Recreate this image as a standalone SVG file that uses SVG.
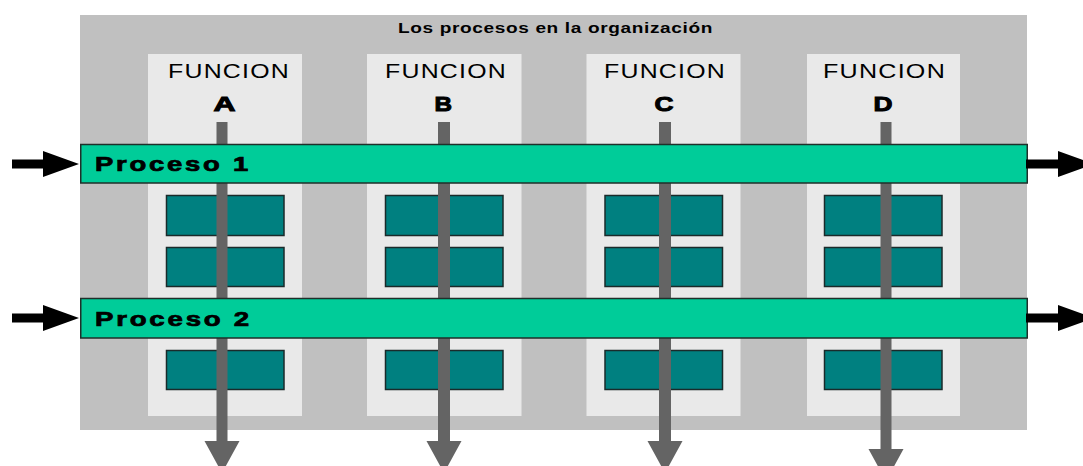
<svg xmlns="http://www.w3.org/2000/svg" width="1083" height="466" viewBox="0 0 1083 466">
<style>
.col{fill:#e9e9e9}
.box{fill:#008080;stroke:#1a2a2a;stroke-width:1.5}
.bar{fill:#00cc99;stroke:#1f2f2a;stroke-width:1.5}
.shaft{fill:#646464}
.blk{fill:#000}
.fn{font-family:"Liberation Sans",Arial,sans-serif;font-size:20px;fill:#000;letter-spacing:1px}
.let{font-family:"Liberation Sans",Arial,sans-serif;font-size:21px;font-weight:bold;fill:#000;stroke:#000;stroke-width:1}
.pt{font-family:"Liberation Sans",Arial,sans-serif;font-size:20px;font-weight:bold;fill:#000;stroke:#000;stroke-width:0.7;letter-spacing:2px}
.title{font-family:"Liberation Sans",Arial,sans-serif;font-size:15px;font-weight:bold;fill:#000;letter-spacing:0.5px}
</style>
<rect width="1083" height="466" fill="#fff"/>
<rect id="org" x="80" y="15" width="947" height="415" fill="#c0c0c0"/>
<text class="title" x="398" y="32.5" textLength="315" lengthAdjust="spacingAndGlyphs">Los procesos en la organización</text>

<g id="funcionA">
<rect class="col" x="148" y="54" width="154" height="362"/>
<text class="fn" x="168" y="78" textLength="122" lengthAdjust="spacingAndGlyphs">FUNCION</text>
<text class="let" x="213.5" y="110.5" textLength="22" lengthAdjust="spacingAndGlyphs">A</text>
<rect class="box" x="166.5" y="195.5" width="117.5" height="40"/>
<rect class="box" x="166.5" y="247.5" width="117.5" height="39"/>
<rect class="box" x="166.5" y="350.5" width="117.5" height="39"/>
</g>
<g id="funcionB">
<rect class="col" x="367" y="54" width="154.5" height="362"/>
<text class="fn" x="385" y="78" textLength="122" lengthAdjust="spacingAndGlyphs">FUNCION</text>
<text class="let" x="434.5" y="110.5" textLength="17.5" lengthAdjust="spacingAndGlyphs">B</text>
<rect class="box" x="385.5" y="195.5" width="117.5" height="40"/>
<rect class="box" x="385.5" y="247.5" width="117.5" height="39"/>
<rect class="box" x="385.5" y="350.5" width="117.5" height="39"/>
</g>
<g id="funcionC">
<rect class="col" x="586.5" y="54" width="154" height="362"/>
<text class="fn" x="604" y="78" textLength="122" lengthAdjust="spacingAndGlyphs">FUNCION</text>
<text class="let" x="654.5" y="110.5" textLength="19" lengthAdjust="spacingAndGlyphs">C</text>
<rect class="box" x="605" y="195.5" width="117.5" height="40"/>
<rect class="box" x="605" y="247.5" width="117.5" height="39"/>
<rect class="box" x="605" y="350.5" width="117.5" height="39"/>
</g>
<g id="funcionD">
<rect class="col" x="807" y="54" width="153" height="362"/>
<text class="fn" x="823" y="78" textLength="123" lengthAdjust="spacingAndGlyphs">FUNCION</text>
<text class="let" x="873.5" y="110.5" textLength="19" lengthAdjust="spacingAndGlyphs">D</text>
<rect class="box" x="824.5" y="195.5" width="117.5" height="40"/>
<rect class="box" x="824.5" y="247.5" width="117.5" height="39"/>
<rect class="box" x="824.5" y="350.5" width="117.5" height="39"/>
</g>

<g id="connectors">
<path class="shaft" d="M216.5 122 H227.5 V441 H239.5 L222 473 L204.5 441 H216.5 Z"/>
<path class="shaft" d="M438 122 H450 V441 H461.5 L444 473 L426.5 441 H438 Z"/>
<path class="shaft" d="M659 122 H671 V441 H682.5 L665 473 L647.5 441 H659 Z"/>
<path class="shaft" d="M880.5 122 H891.5 V449 H903.5 L886 481 L868.5 449 H880.5 Z"/>
</g>

<g id="proceso1">
<rect class="bar" x="80.75" y="144.5" width="946.5" height="38.5"/>
<text class="pt" x="95" y="170.5" textLength="156" lengthAdjust="spacingAndGlyphs">Proceso 1</text>
</g>
<g id="proceso2">
<rect class="bar" x="80.75" y="298.5" width="946.5" height="39.5"/>
<text class="pt" x="95" y="326" textLength="157" lengthAdjust="spacingAndGlyphs">Proceso 2</text>
</g>

<g id="connectors-h">
<path class="blk" d="M12 159.5 H43 V151 L79 164 L43 177 V168.5 H12 Z"/>
<path class="blk" d="M1026 159.5 H1058 V151 L1094 164 L1058 177 V168.5 H1026 Z"/>
<path class="blk" d="M12 313.5 H43 V305 L79 318 L43 331 V322.5 H12 Z"/>
<path class="blk" d="M1026 313.5 H1058 V305 L1094 318 L1058 331 V322.5 H1026 Z"/>
</g>
</svg>
